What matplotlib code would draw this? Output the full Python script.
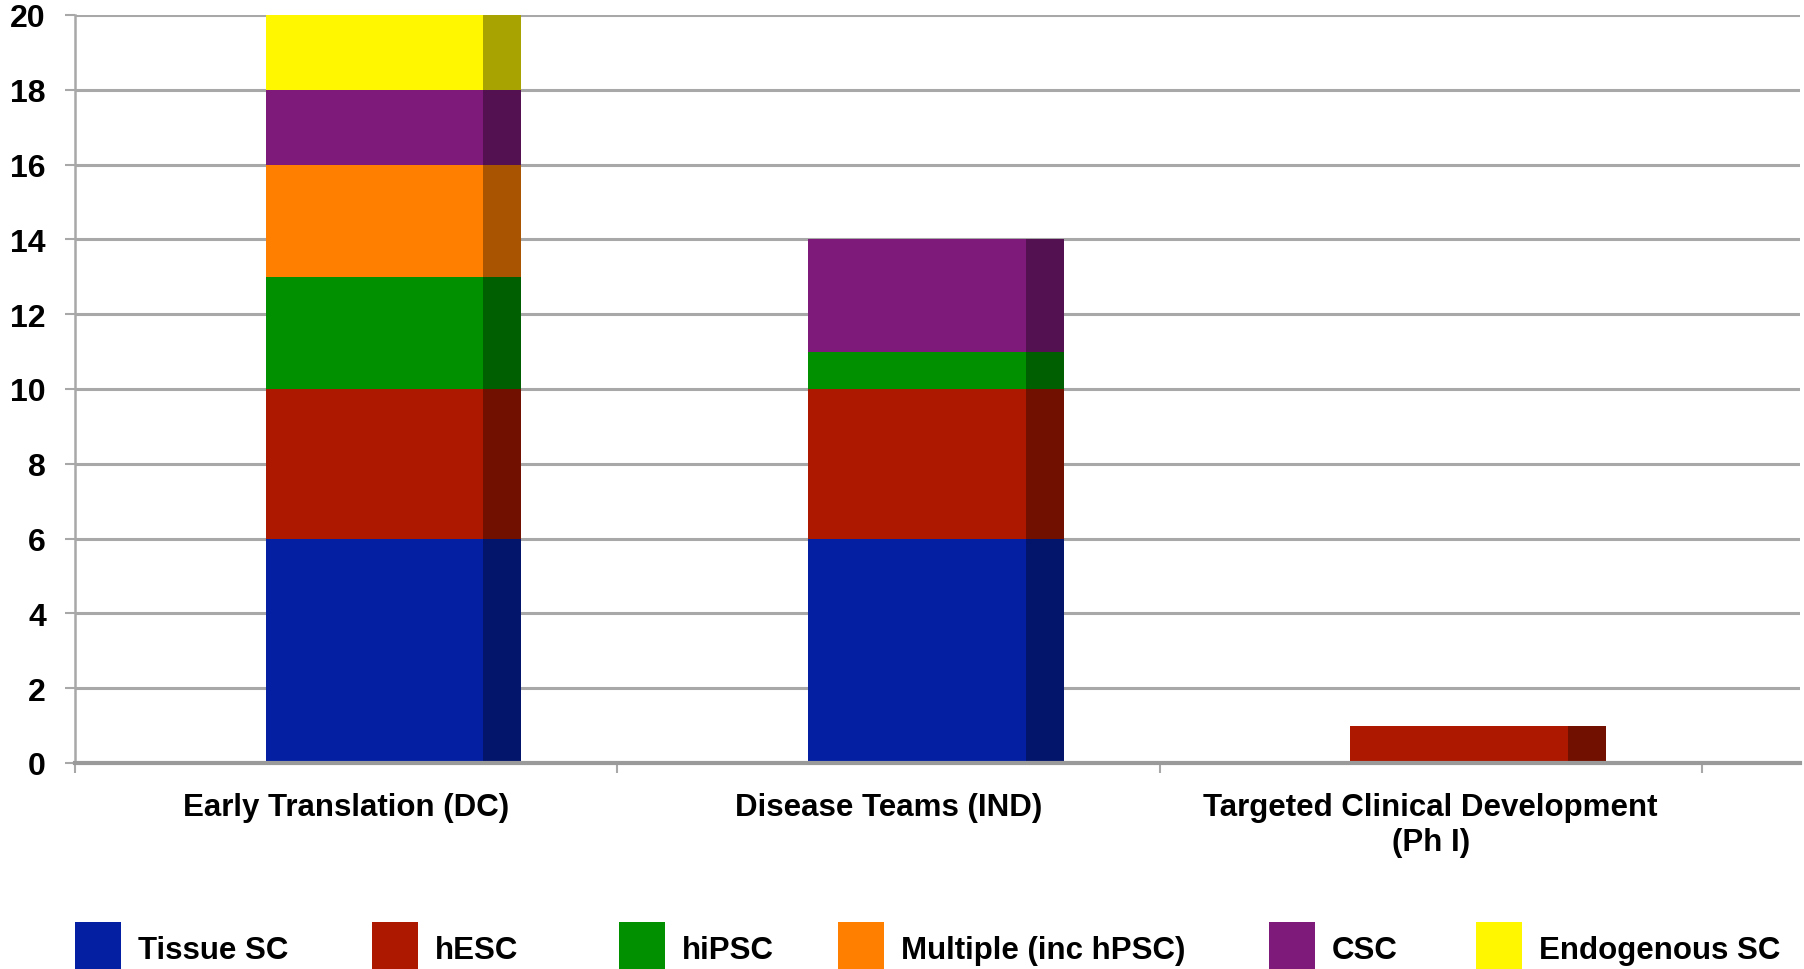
import numpy as np
import matplotlib.pyplot as plt
from matplotlib.patches import Rectangle
from matplotlib.colors import to_rgb

plt.rcParams['font.family'] = ['Liberation Sans', 'DejaVu Sans']
plt.rcParams['font.weight'] = 'bold'

categories = ["Early Translation (DC)", "Disease Teams (IND)",
              "Targeted Clinical Development\n(Ph I)"]
series_names = ["Tissue SC", "hESC", "hiPSC", "Multiple (inc hPSC)", "CSC", "Endogenous SC"]
tissue_sc = [6, 6, 0]
hesc = [4, 4, 1]
hipsc = [3, 1, 0]
multiple = [3, 0, 0]
csc = [2, 3, 0]
endogenous_sc = [2, 0, 0]
yticks = list(range(0, 21, 2))

colors = ["#041fa2", "#ac1800", "#009000", "#ff8000", "#7d1a7a", "#fff700"]
series = [tissue_sc, hesc, hipsc, multiple, csc, endogenous_sc]


def shade(c, f=0.66):
    r, g, b = to_rgb(c)
    return (r * f, g * f, b * f)


W, H = 1804, 970
fig = plt.figure(figsize=(W / 100, H / 100), dpi=100)
ax = fig.add_axes([75 / W, (H - 764) / H, (1800 - 75) / W, (764 - 16) / H])

x = np.arange(len(categories))
front_off, front_w, side_w = -0.148, 0.401, 0.07
bottom = np.zeros(len(categories))
for vals, col in zip(series, colors):
    vals = np.array(vals, dtype=float)
    ax.bar(x + front_off, vals, width=front_w, bottom=bottom, align='edge',
           color=col, linewidth=0, zorder=3)
    ax.bar(x + front_off + front_w, vals, width=side_w, bottom=bottom, align='edge',
           color=shade(col), linewidth=0, zorder=3)
    bottom += vals

ax.set_xlim(-0.5, 2.681)
ax.set_ylim(0, 20)
ax.set_yticks(yticks)
ax.set_yticklabels([str(v) for v in yticks], fontsize=23, fontweight='bold')
ax.yaxis.grid(True, color='#a8a8a8', linewidth=2.2, zorder=1)
ax.set_axisbelow(True)

ax.set_xticks(x)
ax.set_xticklabels(categories, fontsize=22.5, fontweight='bold', linespacing=1.2)
ax.set_xticks([-0.5, 0.5, 1.5, 2.5], minor=True)
ax.tick_params(axis='x', which='major', length=0, pad=21)
ax.tick_params(axis='x', which='minor', length=7, width=1.5, color='#a8a8a8')
ax.tick_params(axis='y', length=7, width=1.5, color='#a8a8a8', pad=14)

for side in ['top', 'right']:
    ax.spines[side].set_visible(False)
ax.spines['left'].set_color('#a8a8a8')
ax.spines['left'].set_linewidth(1.8)
ax.spines['bottom'].set_color('#9a9a9a')
ax.spines['bottom'].set_linewidth(3)
ax.spines['bottom'].set_zorder(4)

# legend row along the bottom edge
square_x = [75, 372, 619, 838, 1269, 1476]
for sx, name, col in zip(square_x, series_names, colors):
    fig.patches.append(Rectangle((sx / W, 0), 46 / W, 47 / H, transform=fig.transFigure,
                                 facecolor=col, edgecolor='none'))
    fig.text((sx + 63) / W, (H - 951) / H, name, fontsize=22.5, fontweight='bold',
             va='center', ha='left')

fig.savefig("out.png", dpi=100)
